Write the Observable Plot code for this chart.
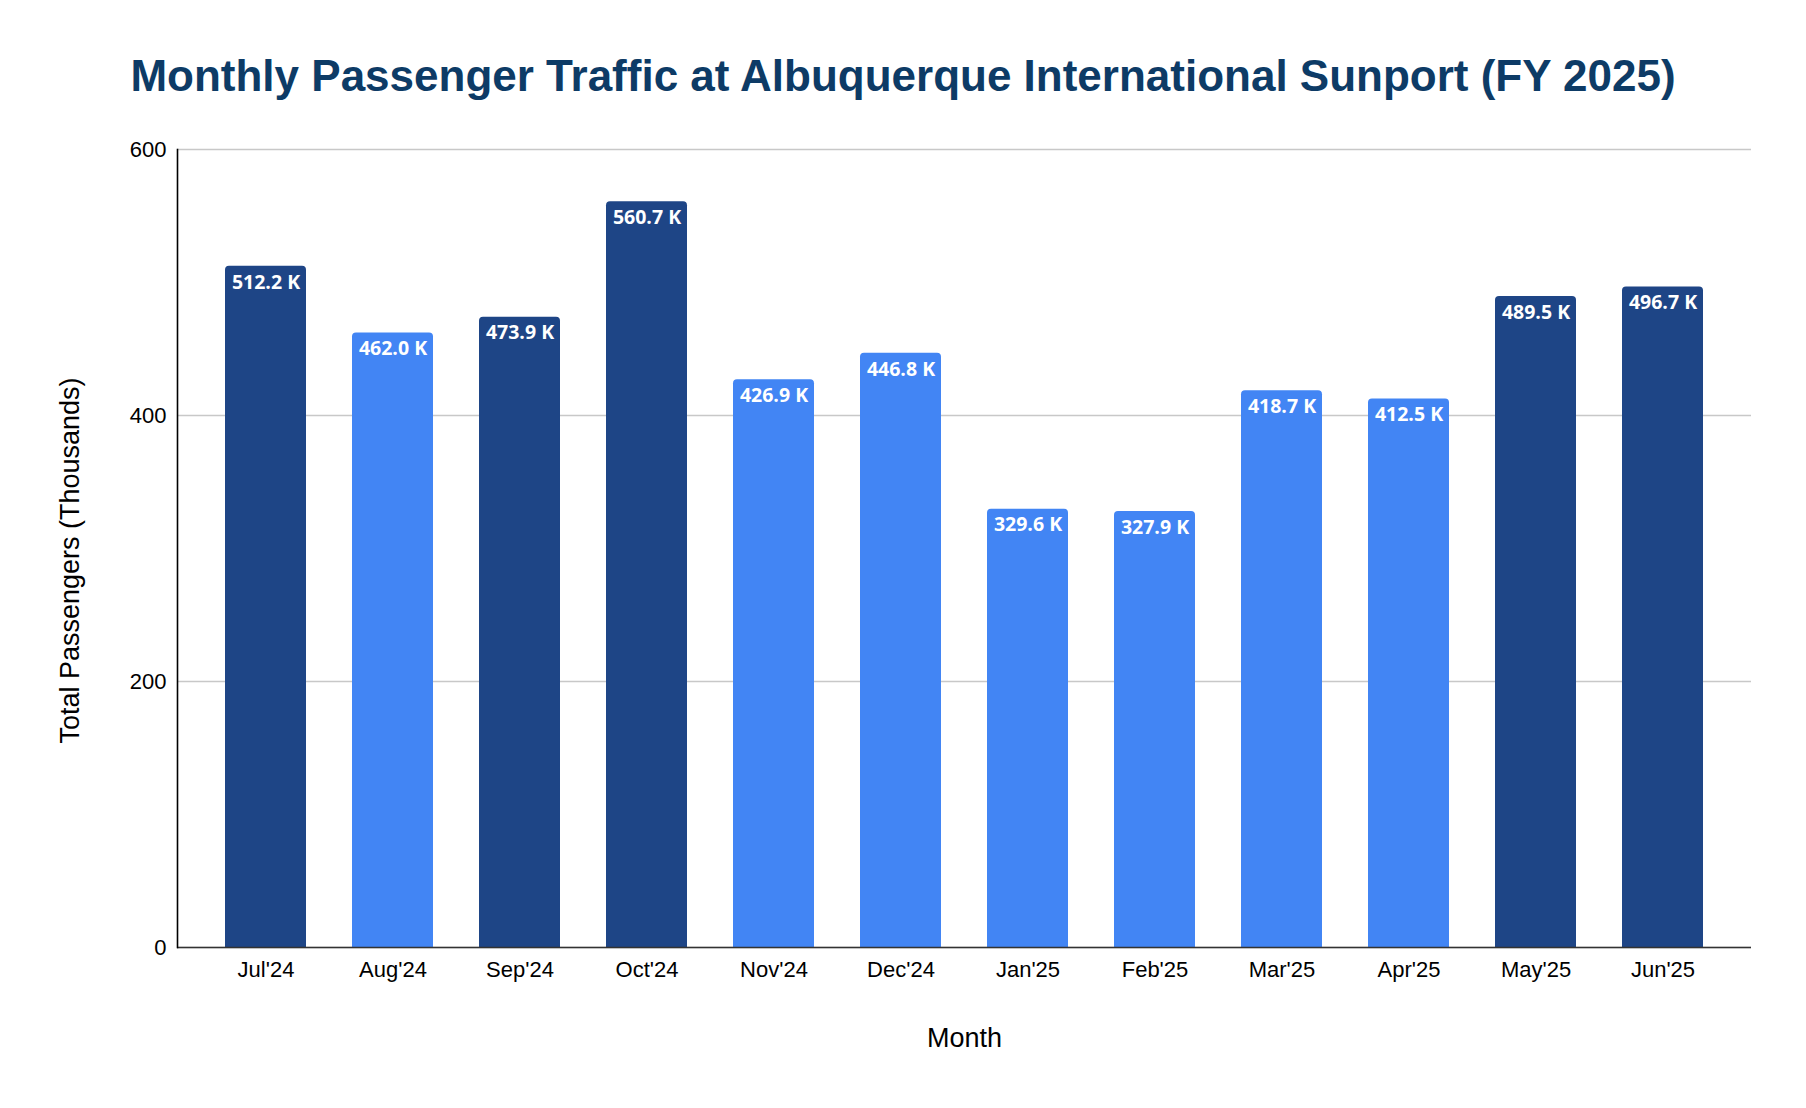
<!DOCTYPE html>
<html>
<head>
<meta charset="utf-8">
<script src="https://cdn.jsdelivr.net/npm/d3@7"></script>
<script src="https://cdn.jsdelivr.net/npm/@observablehq/plot@0.6"></script>
<style>
  html, body { margin: 0; padding: 0; background: #fff; }
  #title {
    margin: 0; padding-top: 54px; height: 56px; line-height: 1;
    text-align: center; font-family: "Liberation Sans", Arial, sans-serif;
    font-weight: bold; font-size: 44px; color: #0d3b66;
  }
  #chart svg { display: block; }
</style>
</head>
<body>
<div id="title">Monthly Passenger Traffic at Albuquerque International Sunport (FY 2025)</div>
<div id="chart"></div>
<script>
const months = ["Jul'24","Aug'24","Sep'24","Oct'24","Nov'24","Dec'24","Jan'25","Feb'25","Mar'25","Apr'25","May'25","Jun'25"];
const passengers = [512.2, 462.0, 473.9, 560.7, 426.9, 446.8, 329.6, 327.9, 418.7, 412.5, 489.5, 496.7];
const shade = ["dark","light","dark","dark","light","light","light","light","light","light","dark","dark"];
const yTicks = [0, 200, 400, 600];
const xTitle = "Month";
const yTitle = "Total Passengers (Thousands)";

const data = months.map((m, i) => ({month: m, value: passengers[i], shade: shade[i]}));

const chart = Plot.plot({
  width: 1806,
  height: 998,
  marginLeft: 177,
  marginRight: 55,
  marginTop: 39,
  marginBottom: 161,
  style: {fontFamily: '"Liberation Sans", Arial, sans-serif', background: "#fff", color: "#000"},
  x: {domain: months, padding: 0.365, label: null},
  y: {domain: [0, 600], label: null},
  color: {domain: ["dark", "light"], range: ["#1e4586", "#4285f4"]},
  marks: [
    Plot.gridY(yTicks, {stroke: "#c8c8c8", strokeOpacity: 1, strokeWidth: 1.3}),
    Plot.barY(data, {x: "month", y: "value", fill: "shade", rx1y1: 4, rx2y1: 4}),
    Plot.text(data, {
      x: "month", y: "value", text: d => d.value.toFixed(1) + " K",
      dy: 16, fill: "#fff", fontWeight: "bold", fontSize: 19.5,
      fontFamily: '"Open Sans", sans-serif'
    }),
    Plot.axisX({tickSize: 0, tickPadding: 14, fontSize: 22, label: null, color: "#000"}),
    Plot.axisY(yTicks, {tickSize: 0, tickPadding: 11, fontSize: 22, label: null, color: "#000"}),
    Plot.ruleY([0], {stroke: "#333", strokeWidth: 1.6}),
    Plot.frame({anchor: "left", stroke: "#000", strokeWidth: 1.6}),
    Plot.text([xTitle], {frameAnchor: "bottom", dy: 99, text: d => d, fontSize: 27, fill: "#000"}),
    Plot.text([yTitle], {frameAnchor: "left", textAnchor: "middle", dx: -107, dy: 12, rotate: -90, text: d => d, fontSize: 27, fill: "#000"})
  ]
});
document.getElementById("chart").appendChild(chart);
</script>
</body>
</html>
